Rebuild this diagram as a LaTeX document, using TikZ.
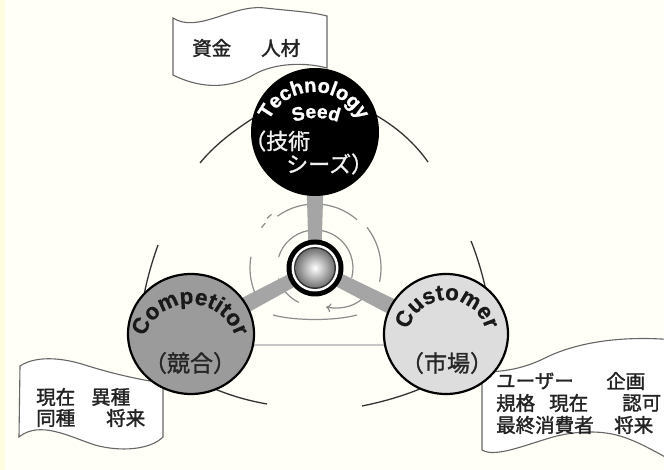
\documentclass[tikz,border=0pt]{standalone}
\usepackage{fontspec}
\newfontfamily\cjkfont{Noto Sans CJK JP}[FakeBold=1.6]
\newfontfamily\cjkwhite{Noto Sans CJK JP}[FakeBold=1.2]
\newfontfamily\arialfont{Liberation Sans}[BoldFeatures={FakeBold=1.3}]
\newfontfamily\arialmid{Liberation Sans}[BoldFeatures={FakeBold=0.6}]
\usetikzlibrary{calc,decorations.text,arrows.meta}
\definecolor{bgcream}{RGB}{255,255,247}
\definecolor{spokegray}{RGB}{165,165,165}
\definecolor{compgray}{RGB}{155,155,155}
\definecolor{custgray}{RGB}{221,221,221}
\definecolor{ringgray}{RGB}{140,140,140}
\definecolor{flagtextc}{RGB}{35,35,35}
\newcommand\techfont{\arialfont\bfseries\fontsize{20}{20}\selectfont\color{white}}
\newcommand\seedfont{\arialfont\bfseries\fontsize{19}{19}\selectfont\color{white}}
\newcommand\compfont{\arialmid\bfseries\fontsize{22.5}{22.5}\selectfont\color{black!90}}
\begin{document}
\begin{tikzpicture}[x=1pt,y=1pt,
  flagshape/.style={draw=black!60, line width=1.1pt, fill=white},
  bigarc/.style={draw=black!80, line width=1.3pt},
  ringarc/.style={draw=ringgray, line width=1.2pt},
  spoke/.style={fill=spokegray, draw=none},
  bigcircle/.style={draw=black, line width=2.2pt},
  flagtext/.style={font=\cjkfont\fontsize{19.5}{19.5}\selectfont, text=flagtextc, inner sep=0pt, anchor=west},
  whitecjk/.style={font=\cjkwhite\fontsize{22}{22}\selectfont, text=black!6, inner sep=0pt, anchor=west},
  paren/.style={font=\cjkwhite\fontsize{23}{23}\selectfont, text=black!85, inner sep=0pt}
]
\fill[bgcream] (0,0) rectangle (664,-470);
\fill[yellow!12] (0,0) rectangle (5,-470);
\useasboundingbox (0,0) rectangle (664,-470);

\coordinate (C) at (315,-268);
\coordinate (T) at (315,-132);
\coordinate (L) at (191,-334);
\coordinate (R) at (446,-334);

\begin{scope}
\clip (0,0) rectangle (664,-470);
% flags
\path[flagshape] (173,-18) .. controls (198,-34) and (232,-4) .. (265,-8)
  .. controls (292,-11) and (312,-12) .. (327,-16) -- (327,-68)
  .. controls (305,-62) and (275,-63) .. (255,-74)
  .. controls (225,-92) and (195,-86) .. (173,-75) -- cycle;
\path[flagshape] (20,-366) .. controls (35,-356) and (60,-357) .. (85,-365)
  .. controls (110,-373) and (140,-380) .. (163,-383) -- (163,-437)
  .. controls (150,-450) and (120,-452) .. (95,-445)
  .. controls (70,-437) and (40,-420) .. (19,-437) -- cycle;
\path[flagshape] (482,-372) .. controls (505,-372) and (525,-368) .. (545,-358)
  .. controls (575,-343) and (620,-335) .. (675,-340) -- (675,-462)
  .. controls (655,-452) and (640,-442) .. (620,-436)
  .. controls (600,-430) and (575,-431) .. (553,-437)
  .. controls (525,-445) and (495,-458) .. (482,-450) -- cycle;
\end{scope}

% big outer arcs
\draw[bigarc] (260,-114) .. controls (232,-131) and (213,-147) .. (200,-163);
\draw[bigarc] (158,-245) .. controls (153,-259) and (148,-275) .. (144,-295);
\draw[bigarc] (370,-112) .. controls (398,-127) and (416,-145) .. (428,-162);
\draw[bigarc] (471,-241) .. controls (477,-256) and (482,-272) .. (487,-295);
\draw[bigarc] (208,-386) .. controls (230,-396) and (250,-401) .. (267,-404);
\draw[bigarc] (362,-406) .. controls (382,-402) and (404,-396) .. (427,-386);
% horizontal link
\draw[draw=black!22, line width=1.8pt] (240,-345) -- (395,-345);

% concentric ring arcs
\draw[ringarc] (C) ++(49:64) arc[start angle=49, end angle=126, radius=64];
\draw[ringarc] (C) ++(170:65) arc[start angle=170, end angle=203, radius=65];
\draw[ringarc] (C) ++(38:66) arc[start angle=38, end angle=-12, radius=66];
\draw[ringarc] (C) ++(129:69) arc[start angle=129, end angle=134, radius=69];
\draw[ringarc] (C) ++(138:67) arc[start angle=138, end angle=143, radius=67];
\draw[ringarc] (C) ++(100:38) arc[start angle=100, end angle=163, radius=38];
\draw[ringarc] (C) ++(80:38) arc[start angle=80, end angle=-15, radius=38];
\draw[ringarc] (C) ++(196:38) arc[start angle=196, end angle=245, radius=38];
\draw[ringarc] (273,-315) .. controls (295,-321) and (335,-321) .. (357,-315);
\draw[ringarc, -{To[length=5pt,width=9pt]}] (366,-295) .. controls (357,-306) and (342,-310) .. (326,-307);

% spokes
\fill[spoke] ($(C)!6pt!90:(T)$) -- ($(C)!6pt!-90:(T)$) -- ($(T)!10pt!90:(C)$) -- ($(T)!10pt!-90:(C)$) -- cycle;
\fill[spoke] ($(C)!6.5pt!90:(L)$) -- ($(C)!6.5pt!-90:(L)$) -- ($(L)!9pt!90:(C)$) -- ($(L)!9pt!-90:(C)$) -- cycle;
\fill[spoke] ($(C)!6.5pt!90:(R)$) -- ($(C)!6.5pt!-90:(R)$) -- ($(R)!9pt!90:(C)$) -- ($(R)!9pt!-90:(C)$) -- cycle;

% circles
\fill[black] (T) circle[radius=64];
\path[bigcircle, fill=compgray] (L) ellipse[x radius=63, y radius=60];
\path[bigcircle, fill=custgray] (R) ellipse[x radius=62, y radius=60];

% centre
\fill[black] (C) circle[radius=28.5];
\fill[white] (C) circle[radius=23.5];
\fill[black!80] (C) circle[radius=21];
\shade[inner color=white, outer color=black!55] (C) circle[radius=19.5];

% curved titles
\path[decorate, decoration={text along path, text align=center, text={|\techfont|Technology}}]
  (314,-142) ++(162:50) arc[start angle=162, end angle=18, radius=50];
\path[decorate, decoration={text along path, text align=center, text={|\seedfont|Seed}}]
  (316,-180) ++(120:62) arc[start angle=120, end angle=60, radius=62];
\path[decorate, decoration={text along path, text align=center, text={|\compfont|Competitor}}]
  (190,-352) ++(170:48) arc[start angle=170, end angle=10, radius=48];
\path[decorate, decoration={text along path, text align=center, text={|\compfont|Customer}}]
  (447,-340) ++(172:40) arc[start angle=172, end angle=8, radius=40];

% texts
\node[whitecjk] (tw1) at (244,-141) {（技術};
\node[whitecjk] (tw2) at (286,-164) {シーズ）};
\node[paren] (lc) at (190,-363) {（競合）};
\node[paren] (rc) at (447,-363) {（市場）};

\node[flagtext] (f1) at (192,-48) {資金};
\node[flagtext] (f2) at (261,-48) {人材};

\node[flagtext] (g1) at (36,-397) {現在};
\node[flagtext] (g2) at (91,-397) {異種};
\node[flagtext] (g3) at (36,-418) {同種};
\node[flagtext] (g4) at (106,-418) {将来};

\node[flagtext] (h1) at (496,-381) {ユーザー};
\node[flagtext] (h2) at (606,-381) {企画};
\node[flagtext] (h3) at (496,-403) {規格};
\node[flagtext] (h4) at (549,-403) {現在};
\node[flagtext] (h5) at (622,-403) {認可};
\node[flagtext] (h6) at (496,-425) {最終消費者};
\node[flagtext] (h7) at (614,-425) {将来};
\end{tikzpicture}
\end{document}
